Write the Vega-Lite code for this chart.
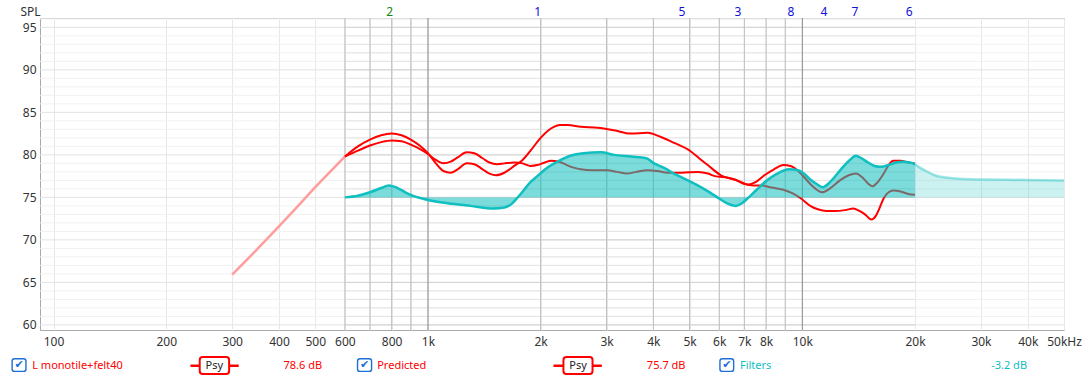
{
  "$schema": "https://vega.github.io/schema/vega-lite/v6.json",
  "width": 1024,
  "height": 312,
  "autosize": {"type": "none"},
  "padding": {"left": 40, "top": 18, "right": 20, "bottom": 47},
  "background": "white",
  "config": {
    "view": {"stroke": "#a9a9a9", "strokeWidth": 1},
    "font": "Noto Sans",
    "axis": {"labelFont": "Noto Sans", "labelFontSize": 12, "labelColor": "#333333", "domain": false, "ticks": false}
  },
  "datasets": {
    "hg": [{"db":60},{"db":61},{"db":62},{"db":63},{"db":64},{"db":65},{"db":66},{"db":67},{"db":68},{"db":69},{"db":70},{"db":71},{"db":72},{"db":73},{"db":74},{"db":75},{"db":76},{"db":77},{"db":78},{"db":79},{"db":80},{"db":81},{"db":82},{"db":83},{"db":84},{"db":85},{"db":86},{"db":87},{"db":88},{"db":89},{"db":90},{"db":91},{"db":92},{"db":93},{"db":94},{"db":95},{"db":96}],
    "vg": [{"f":600},{"f":700},{"f":800},{"f":900},{"f":1000},{"f":2000},{"f":3000},{"f":4000},{"f":5000},{"f":6000},{"f":7000},{"f":8000},{"f":9000},{"f":10000}],
    "pink": [{"f":300,"db":65.9},{"f":350,"db":68.9},{"f":400,"db":71.6},{"f":450,"db":74.0},{"f":500,"db":76.2},{"f":550,"db":78.1},{"f":600,"db":79.8}],
    "curves": [
      {"s":"M","f":600,"db":79.8},{"s":"M","f":650,"db":80.5},{"s":"M","f":700,"db":81.1},{"s":"M","f":750,"db":81.5},{"s":"M","f":800,"db":81.7},{"s":"M","f":850,"db":81.6},{"s":"M","f":900,"db":81.2},{"s":"M","f":950,"db":80.7},{"s":"M","f":1000,"db":80.1},{"s":"M","f":1050,"db":79.4},{"s":"M","f":1100,"db":79.0},{"s":"M","f":1150,"db":79.2},{"s":"M","f":1200,"db":79.7},{"s":"M","f":1270,"db":80.3},{"s":"M","f":1330,"db":80.2},{"s":"M","f":1400,"db":79.6},{"s":"M","f":1460,"db":79.1},{"s":"M","f":1530,"db":78.9},{"s":"M","f":1600,"db":79.0},{"s":"M","f":1700,"db":79.1},{"s":"M","f":1790,"db":79.0},{"s":"M","f":1880,"db":78.7},{"s":"M","f":1960,"db":78.8},{"s":"M","f":2050,"db":79.1},{"s":"M","f":2130,"db":79.3},{"s":"M","f":2240,"db":79.2},{"s":"M","f":2350,"db":78.8},{"s":"M","f":2450,"db":78.5},{"s":"M","f":2560,"db":78.3},{"s":"M","f":2750,"db":78.2},{"s":"M","f":3010,"db":78.2},{"s":"M","f":3200,"db":78.0},{"s":"M","f":3400,"db":77.8},{"s":"M","f":3600,"db":78.0},{"s":"M","f":3860,"db":78.2},{"s":"M","f":4100,"db":78.1},{"s":"M","f":4370,"db":77.9},{"s":"M","f":4750,"db":77.9},{"s":"M","f":5270,"db":78.0},{"s":"M","f":5600,"db":77.8},{"s":"M","f":5840,"db":77.5},{"s":"M","f":6330,"db":77.3},{"s":"M","f":6700,"db":77.0},{"s":"M","f":7010,"db":76.6},{"s":"M","f":7400,"db":76.4},{"s":"M","f":7770,"db":76.4},{"s":"M","f":8200,"db":76.2},{"s":"M","f":8900,"db":75.9},{"s":"M","f":9400,"db":75.5},{"s":"M","f":9900,"db":74.9},{"s":"M","f":10500,"db":74.0},{"s":"M","f":11000,"db":73.6},{"s":"M","f":11600,"db":73.4},{"s":"M","f":12200,"db":73.4},{"s":"M","f":13000,"db":73.5},{"s":"M","f":13700,"db":73.7},{"s":"M","f":14200,"db":73.4},{"s":"M","f":14700,"db":73.0},{"s":"M","f":15300,"db":72.4},{"s":"M","f":15700,"db":72.8},{"s":"M","f":16100,"db":73.8},{"s":"M","f":16500,"db":74.9},{"s":"M","f":17000,"db":75.6},{"s":"M","f":17500,"db":75.8},{"s":"M","f":18300,"db":75.7},{"s":"M","f":19200,"db":75.4},{"s":"M","f":20000,"db":75.3},
      {"s":"P","f":600,"db":79.8},{"s":"P","f":650,"db":81.0},{"s":"P","f":700,"db":81.8},{"s":"P","f":750,"db":82.3},{"s":"P","f":800,"db":82.5},{"s":"P","f":850,"db":82.3},{"s":"P","f":900,"db":81.8},{"s":"P","f":950,"db":81.1},{"s":"P","f":1000,"db":80.2},{"s":"P","f":1050,"db":79.0},{"s":"P","f":1100,"db":78.1},{"s":"P","f":1150,"db":77.9},{"s":"P","f":1200,"db":78.3},{"s":"P","f":1270,"db":79.0},{"s":"P","f":1330,"db":78.9},{"s":"P","f":1400,"db":78.3},{"s":"P","f":1460,"db":77.8},{"s":"P","f":1520,"db":77.6},{"s":"P","f":1600,"db":77.9},{"s":"P","f":1700,"db":78.7},{"s":"P","f":1790,"db":79.4},{"s":"P","f":1880,"db":80.5},{"s":"P","f":2000,"db":82.0},{"s":"P","f":2100,"db":82.9},{"s":"P","f":2170,"db":83.3},{"s":"P","f":2250,"db":83.5},{"s":"P","f":2360,"db":83.5},{"s":"P","f":2560,"db":83.3},{"s":"P","f":2840,"db":83.2},{"s":"P","f":3140,"db":82.9},{"s":"P","f":3480,"db":82.5},{"s":"P","f":3860,"db":82.6},{"s":"P","f":4190,"db":82.1},{"s":"P","f":4550,"db":81.4},{"s":"P","f":5040,"db":80.4},{"s":"P","f":5300,"db":79.6},{"s":"P","f":5590,"db":78.8},{"s":"P","f":6060,"db":77.6},{"s":"P","f":6580,"db":77.1},{"s":"P","f":7150,"db":76.5},{"s":"P","f":7500,"db":76.8},{"s":"P","f":7920,"db":77.6},{"s":"P","f":8400,"db":78.3},{"s":"P","f":8900,"db":78.8},{"s":"P","f":9300,"db":78.7},{"s":"P","f":9700,"db":78.2},{"s":"P","f":10100,"db":77.4},{"s":"P","f":10600,"db":76.4},{"s":"P","f":11300,"db":75.6},{"s":"P","f":11900,"db":76.1},{"s":"P","f":12600,"db":77.0},{"s":"P","f":13300,"db":77.6},{"s":"P","f":13900,"db":77.8},{"s":"P","f":14500,"db":77.3},{"s":"P","f":15000,"db":76.6},{"s":"P","f":15400,"db":76.3},{"s":"P","f":15900,"db":76.8},{"s":"P","f":16500,"db":77.8},{"s":"P","f":17000,"db":78.8},{"s":"P","f":17500,"db":79.3},{"s":"P","f":18300,"db":79.3},{"s":"P","f":19200,"db":79.1},{"s":"P","f":20000,"db":79.0}
    ],
    "filt": [{"f":600,"db":75.0},{"f":650,"db":75.2},{"f":700,"db":75.6},{"f":750,"db":76.1},{"f":786,"db":76.4},{"f":830,"db":76.1},{"f":870,"db":75.6},{"f":910,"db":75.2},{"f":960,"db":74.9},{"f":1000,"db":74.7},{"f":1130,"db":74.3},{"f":1300,"db":74.0},{"f":1500,"db":73.7},{"f":1600,"db":73.8},{"f":1680,"db":74.3},{"f":1730,"db":74.9},{"f":1800,"db":75.8},{"f":1870,"db":76.7},{"f":1960,"db":77.5},{"f":2100,"db":78.6},{"f":2240,"db":79.3},{"f":2400,"db":79.9},{"f":2600,"db":80.2},{"f":2900,"db":80.3},{"f":3140,"db":80.0},{"f":3500,"db":79.8},{"f":3830,"db":79.6},{"f":4020,"db":79.0},{"f":4300,"db":78.4},{"f":4540,"db":77.8},{"f":4900,"db":77.1},{"f":5210,"db":76.5},{"f":5600,"db":75.7},{"f":5930,"db":75.0},{"f":6300,"db":74.3},{"f":6650,"db":74.0},{"f":6900,"db":74.3},{"f":7150,"db":74.9},{"f":7550,"db":75.9},{"f":7950,"db":76.8},{"f":8500,"db":77.7},{"f":9230,"db":78.3},{"f":9750,"db":78.2},{"f":10100,"db":77.8},{"f":10500,"db":77.1},{"f":10900,"db":76.6},{"f":11340,"db":76.2},{"f":11800,"db":76.7},{"f":12200,"db":77.4},{"f":12800,"db":78.5},{"f":13400,"db":79.4},{"f":13900,"db":79.9},{"f":14400,"db":79.6},{"f":15000,"db":79.1},{"f":15600,"db":78.7},{"f":16200,"db":78.6},{"f":17000,"db":78.8},{"f":17800,"db":79.1},{"f":18600,"db":79.2},{"f":19400,"db":79.1},{"f":20000,"db":78.9}],
    "filtx": [{"f":20000,"db":78.9},{"f":20600,"db":78.5},{"f":21200,"db":78.2},{"f":22600,"db":77.6},{"f":24500,"db":77.3},{"f":27000,"db":77.15},{"f":30000,"db":77.1},{"f":40000,"db":77.05},{"f":50000,"db":77.0}],
    "topsg": [{"f":790,"t":"2"}],
    "topsb": [{"f":1965,"t":"1"},{"f":4768,"t":"5"},{"f":6731,"t":"3"},{"f":9328,"t":"8"},{"f":11430,"t":"4"},{"f":13830,"t":"7"},{"f":19290,"t":"6"}],
    "cb": [{"f":77.5,"f2":84.4,"fc":80.9},{"f":648.6,"f2":707.1,"fc":677},{"f":6025,"f2":6555,"fc":6288}],
    "psy": [{"f":245.7,"f2":294.4,"fc":268.9,"l1":232.1,"l2":312.3},{"f":2301,"f2":2752,"fc":2517,"l1":2164,"l2":2914}],
    "ltred": [{"t":"L monotile+felt40","f":87.7},{"t":"78.6 dB","f":411.4},{"t":"Predicted","f":732},{"t":"75.7 dB","f":3844}],
    "ltcyan": [{"t":"Filters","f":6813},{"t":"-3.2 dB","f":31950}]
  },
  "layer": [
    {
      "data": {"name": "hg"},
      "mark": {"type": "rule", "strokeWidth": 1},
      "encoding": {
        "x": {"datum": 92, "type": "quantitative", "scale": {"type": "log", "domain": [92, 50000], "nice": false},
          "axis": {"values": [100,200,300,400,500,600,700,800,900,1000,2000,3000,4000,5000,6000,7000,8000,9000,10000,20000,30000,40000,50000],
            "labelExpr": "datum.value == 50000 ? '50kHz' : (datum.value == 700 || datum.value == 900 || datum.value == 9000) ? '' : datum.value >= 1000 ? (datum.value / 1000) + 'k' : '' + datum.value",
            "grid": true, "gridColor": "#e8e8e8", "labelPadding": 6, "labelOverlap": false, "labelBound": false, "labelFlush": false, "title": null}},
        "x2": {"datum": 50000},
        "y": {"field": "db", "type": "quantitative", "scale": {"domain": [59.4, 96.1], "nice": false, "zero": false},
          "axis": {"values": [60,65,70,75,80,85,90,95],
            "grid": false, "labelOverlap": false,
            "labelPadding": 4, "title": "SPL", "titleAngle": 0, "titleX": -20, "titleY": -7, "titleAlign": "left", "titleBaseline": "middle",
            "titleFontWeight": "normal", "titleFontSize": 12, "titleColor": "#333333", "titleFont": "Noto Sans"}},
        "color": {"condition": {"test": "datum.db % 5 == 0", "value": "#e3e3e3"}, "value": "#f1f1f1"}
      }
    },
    {
      "data": {"name": "hg"},
      "mark": {"type": "rule", "strokeWidth": 1},
      "encoding": {
        "x": {"datum": 600},
        "x2": {"datum": 20000},
        "y": {"field": "db", "type": "quantitative"},
        "color": {"condition": {"test": "datum.db % 5 == 0", "value": "#d2d2d2"}, "value": "#e4e4e4"}
      }
    },
    {
      "data": {"name": "vg"},
      "mark": {"type": "rule", "strokeWidth": 1},
      "encoding": {
        "x": {"field": "f", "type": "quantitative"},
        "color": {"condition": {"test": "datum.f == 1000 || datum.f == 10000", "value": "#888888"}, "value": "#bdbdbd"}
      }
    },
    {
      "data": {"name": "pink"},
      "mark": {"type": "line", "color": "#ff9d9d", "strokeWidth": 2.5},
      "encoding": {"x": {"field": "f", "type": "quantitative"}, "y": {"field": "db", "type": "quantitative"}}
    },
    {
      "data": {"name": "curves"},
      "mark": {"type": "line", "color": "#ff0000", "strokeWidth": 2, "interpolate": "monotone"},
      "encoding": {"x": {"field": "f", "type": "quantitative"}, "y": {"field": "db", "type": "quantitative"}, "detail": {"field": "s"}}
    },
    {
      "data": {"name": "filt"},
      "mark": {"type": "area", "color": "#10bfbf", "opacity": 0.55, "interpolate": "monotone"},
      "encoding": {"x": {"field": "f", "type": "quantitative"}, "y": {"field": "db", "type": "quantitative"}, "y2": {"datum": 75}}
    },
    {
      "data": {"name": "filtx"},
      "mark": {"type": "area", "color": "#10bfbf", "opacity": 0.22, "interpolate": "monotone"},
      "encoding": {"x": {"field": "f", "type": "quantitative"}, "y": {"field": "db", "type": "quantitative"}, "y2": {"datum": 75}}
    },
    {
      "data": {"name": "filtx"},
      "mark": {"type": "line", "color": "#10bfbf", "opacity": 0.4, "strokeWidth": 2.5, "interpolate": "monotone"},
      "encoding": {"x": {"field": "f", "type": "quantitative"}, "y": {"field": "db", "type": "quantitative"}}
    },
    {
      "mark": {"type": "rule", "color": "#10bfbf", "opacity": 0.4, "strokeWidth": 2.5},
      "encoding": {"x": {"datum": 92}, "x2": {"datum": 600}, "y": {"datum": 75}}
    },
    {
      "mark": {"type": "rule", "color": "#10bfbf", "opacity": 0.4, "strokeWidth": 2.5},
      "encoding": {"x": {"datum": 20000}, "x2": {"datum": 50000}, "y": {"datum": 75}}
    },
    {
      "mark": {"type": "rule", "color": "#10bfbf", "strokeWidth": 3},
      "encoding": {"x": {"datum": 600}, "x2": {"datum": 20000}, "y": {"datum": 75}}
    },
    {
      "data": {"name": "filt"},
      "mark": {"type": "line", "color": "#10bfbf", "strokeWidth": 2.5, "interpolate": "monotone"},
      "encoding": {"x": {"field": "f", "type": "quantitative"}, "y": {"field": "db", "type": "quantitative"}}
    },
    {
      "data": {"name": "topsg"},
      "mark": {"type": "text", "fontSize": 12, "baseline": "middle", "align": "center", "font": "Noto Sans", "color": "#118811"},
      "encoding": {"x": {"field": "f", "type": "quantitative"}, "y": {"datum": 96.83}, "text": {"field": "t"}}
    },
    {
      "data": {"name": "topsb"},
      "mark": {"type": "text", "fontSize": 12, "baseline": "middle", "align": "center", "font": "Noto Sans", "color": "#1010d8"},
      "encoding": {"x": {"field": "f", "type": "quantitative"}, "y": {"datum": 96.83}, "text": {"field": "t"}}
    },
    {
      "data": {"name": "cb"},
      "mark": {"type": "rect", "fill": "white", "stroke": "#1f6fd6", "strokeWidth": 1.4, "cornerRadius": 2.5},
      "encoding": {"x": {"field": "f", "type": "quantitative"}, "x2": {"field": "f2"}, "y": {"datum": 56.02}, "y2": {"datum": 54.53}}
    },
    {
      "data": {"name": "cb"},
      "mark": {"type": "text", "text": "✔", "fontSize": 11, "color": "#1f6fd6", "font": "DejaVu Sans", "baseline": "middle", "align": "center"},
      "encoding": {"x": {"field": "fc", "type": "quantitative"}, "y": {"datum": 55.25}}
    },
    {
      "data": {"name": "psy"},
      "mark": {"type": "rule", "color": "#ff0000", "strokeWidth": 2.5},
      "encoding": {"x": {"field": "l1", "type": "quantitative"}, "x2": {"field": "l2"}, "y": {"datum": 55.2}}
    },
    {
      "data": {"name": "psy"},
      "mark": {"type": "rect", "fill": "white", "stroke": "#ff0000", "strokeWidth": 2, "cornerRadius": 3},
      "encoding": {"x": {"field": "f", "type": "quantitative"}, "x2": {"field": "f2"}, "y": {"datum": 56.22}, "y2": {"datum": 54.22}}
    },
    {
      "data": {"name": "psy"},
      "mark": {"type": "text", "text": "Psy", "fontSize": 11, "color": "#222222", "font": "Noto Sans", "baseline": "middle", "align": "center"},
      "encoding": {"x": {"field": "fc", "type": "quantitative"}, "y": {"datum": 55.2}}
    },
    {
      "mark": {"type": "rule", "color": "#10bfbf", "strokeWidth": 3},
      "encoding": {"x": {"datum": 17880}, "x2": {"datum": 24130}, "y": {"datum": 55.2}}
    },
    {
      "data": {"name": "ltred"},
      "mark": {"type": "text", "fontSize": 11, "font": "Noto Sans", "baseline": "middle", "align": "left", "color": "#ff0000"},
      "encoding": {"x": {"field": "f", "type": "quantitative"}, "y": {"datum": 55.2}, "text": {"field": "t"}}
    },
    {
      "data": {"name": "ltcyan"},
      "mark": {"type": "text", "fontSize": 11, "font": "Noto Sans", "baseline": "middle", "align": "left", "color": "#10bfbf"},
      "encoding": {"x": {"field": "f", "type": "quantitative"}, "y": {"datum": 55.2}, "text": {"field": "t"}}
    }
  ]
}
